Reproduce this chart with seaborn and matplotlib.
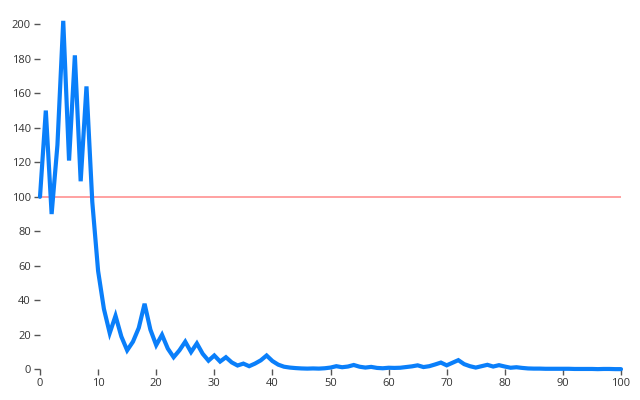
import matplotlib
matplotlib.use("Agg")
import matplotlib.pyplot as plt
import seaborn as sns
import pandas as pd

x_values = list(range(0, 101))
y_values = [
    100, 150, 90, 130, 202, 121, 182, 109, 164, 97,
    57, 35, 21, 31, 19, 11, 16, 24, 38, 23,
    14, 20, 12, 7, 11, 16, 10, 15, 9, 5,
    8, 4.5, 7, 4, 2.2, 3.3, 1.8, 3.3, 5.2, 8,
    4.8, 2.7, 1.5, 1.0, 0.7, 0.5, 0.4, 0.5, 0.4, 0.6,
    1.0, 1.8, 1.2, 1.6, 2.5, 1.5, 1.0, 1.4, 0.8, 0.6,
    0.9, 0.8, 0.9, 1.3, 1.7, 2.3, 1.3, 1.8, 2.8, 3.9,
    2.3, 3.8, 5.3, 3.0, 1.8, 1.0, 1.8, 2.6, 1.6, 2.4,
    1.6, 0.9, 1.2, 0.8, 0.5, 0.4, 0.4, 0.3, 0.3, 0.3,
    0.3, 0.3, 0.2, 0.2, 0.2, 0.2, 0.1, 0.2, 0.2, 0.1, 0.1,
]
reference_value = 100
x_ticks = [0, 10, 20, 30, 40, 50, 60, 70, 80, 90, 100]
y_ticks = [0, 20, 40, 60, 80, 100, 120, 140, 160, 180, 200]

df = pd.DataFrame({"x": x_values, "y": y_values})

sns.set_style("white")
plt.rcParams["font.family"] = ["Open Sans", "DejaVu Sans"]

fig = plt.figure(figsize=(6.4, 4.0), dpi=100)
ax = fig.add_axes([40 / 640, 1 - 369.3 / 400, 581 / 640, 345 / 400])

ax.axhline(reference_value, color="#ff9a9a", linewidth=1.3, zorder=1)
sns.lineplot(data=df, x="x", y="y", ax=ax, color="#0a7ffa", linewidth=3.0,
             clip_on=False, zorder=3)
for line in ax.lines:
    line.set_solid_joinstyle("miter")

ax.set_xlim(0, 100)
ax.set_ylim(0, 200)
ax.set_xticks(x_ticks)
ax.set_yticks(y_ticks)
ax.set_xlabel("")
ax.set_ylabel("")
for s in ax.spines.values():
    s.set_visible(False)
ax.tick_params(axis="both", which="major", direction="out", length=4,
               width=1, color="#555555", labelsize=8, labelcolor="#333333",
               pad=2.5, bottom=True, left=True)

fig.savefig("out.png", dpi=100, facecolor="white")
